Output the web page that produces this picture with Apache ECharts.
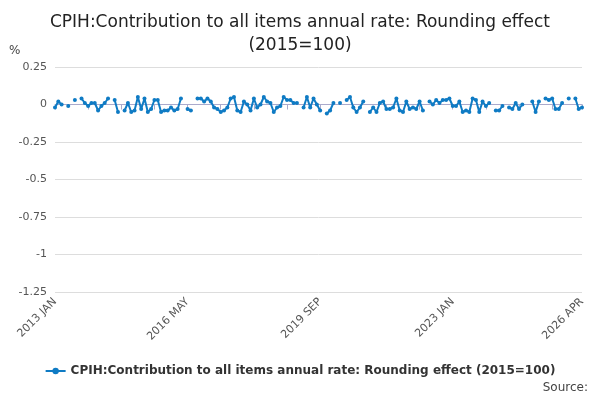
<!DOCTYPE html>
<html><head><meta charset="utf-8">
<script src="https://cdn.jsdelivr.net/npm/echarts@6/dist/echarts.min.js"></script>
<style>html,body{margin:0;padding:0;background:#fff}#c{width:600px;height:400px}</style>
</head><body><div id="c"></div>
<script>
const years = [2013,2014,2015,2016,2017,2018,2019,2020,2021,2022,2023,2024,2025,2026];
const monthNames = ['JAN','FEB','MAR','APR','MAY','JUN','JUL','AUG','SEP','OCT','NOV','DEC'];
const values2013 = [-0.02,0.02,0.00,null,-0.01,null,0.03,null,0.04,0.01,-0.01,0.01];
const values2014 = [0.01,-0.04,-0.01,0.01,0.04,null,0.03,-0.05,null,-0.04,0.01,-0.05];
const values2015 = [-0.04,0.05,-0.03,0.04,-0.05,-0.03,0.03,0.03,-0.05,-0.04,-0.04,-0.02];
const values2016 = [-0.04,-0.03,0.04,null,-0.03,-0.04,null,0.04,0.04,0.02,0.04,0.02];
const values2017 = [-0.02,-0.03,-0.05,-0.04,-0.02,0.04,0.05,-0.04,-0.05,0.02,0.00,-0.04];
const values2018 = [0.04,-0.02,0.00,0.05,0.02,0.01,-0.05,-0.02,-0.01,0.05,0.03,0.03];
const values2019 = [0.01,0.01,null,-0.02,0.05,-0.02,0.04,0.00,-0.04,null,-0.06,-0.04];
const values2020 = [0.01,null,0.01,null,0.03,0.05,-0.02,-0.05,-0.02,0.02,null,-0.05];
const values2021 = [-0.02,-0.05,0.01,0.02,-0.03,-0.03,-0.02,0.04,-0.04,-0.05,0.02,-0.03];
const values2022 = [-0.02,-0.03,0.02,-0.04,null,0.02,0.00,0.03,0.01,0.03,0.03,0.04];
const values2023 = [-0.01,-0.01,0.02,-0.05,-0.04,-0.05,0.04,0.03,-0.05,0.02,-0.01,0.01];
const values2024 = [null,-0.04,-0.04,-0.01,null,-0.02,-0.03,0.01,-0.03,0.00,null,null];
const values2025 = [0.02,-0.05,0.02,null,0.04,0.03,0.04,-0.03,-0.03,0.01,null,0.04];
const values2026 = [null,0.04,-0.03,-0.02];
const yTicks = [-1.25,-1,-0.75,-0.5,-0.25,0,0.25];
const labelIdx = [0,40,80,120,159];

const categories = [];
years.forEach(y => monthNames.forEach((m,i) => { if (y < 2026 || i < 4) categories.push(y + ' ' + m); }));
const values = [].concat(values2013,values2014,values2015,values2016,values2017,values2018,values2019,
  values2020,values2021,values2022,values2023,values2024,values2025,values2026);

const chart = echarts.init(document.getElementById('c'));
chart.setOption({
  animation:false,
  title:{text:'CPIH:Contribution to all items annual rate: Rounding effect\n(2015=100)',left:'center',top:6,
    textStyle:{fontFamily:'DejaVu Sans',fontSize:17,fontWeight:500,color:'#222',lineHeight:23}},
  graphic:[
    {type:'text',left:9,top:45,style:{text:'%',font:'12px DejaVu Sans',fill:'#444'}},
    {type:'text',right:12,top:382,style:{text:'Source:',font:'12px DejaVu Sans',fill:'#444'}}
  ],
  legend:{bottom:18,left:'center',itemWidth:20,itemHeight:8,
    textStyle:{fontFamily:'DejaVu Sans',fontSize:12,fontWeight:'bold',color:'#333'}},
  grid:{left:55,right:18,top:67,bottom:108},
  xAxis:{type:'category',data:categories,boundaryGap:false,
    axisLine:{lineStyle:{color:'#aac'}},
    axisTick:{alignWithLabel:true,interval:i=>i%10===0||i===159,lineStyle:{color:'#aac'}},
    axisLabel:{interval:0,formatter:(v,i)=>labelIdx.includes(i)?v:'',rotate:45,
      fontFamily:'DejaVu Sans',fontSize:11,color:'#555'}},
  yAxis:{type:'value',min:-1.25,max:0.25,interval:0.25,
    axisLabel:{fontFamily:'DejaVu Sans',fontSize:11,color:'#555',formatter:v=>yTicks.includes(v)?String(v):''},
    splitLine:{lineStyle:{color:'#ddd'}},axisLine:{show:false},axisTick:{show:false}},
  series:[{name:'CPIH:Contribution to all items annual rate: Rounding effect (2015=100)',
    type:'line',data:values,connectNulls:false,symbol:'circle',symbolSize:4,showAllSymbol:true,
    itemStyle:{color:'#0f7bc4'},lineStyle:{width:2,color:'#0f7bc4'}}]
});
</script></body></html>
